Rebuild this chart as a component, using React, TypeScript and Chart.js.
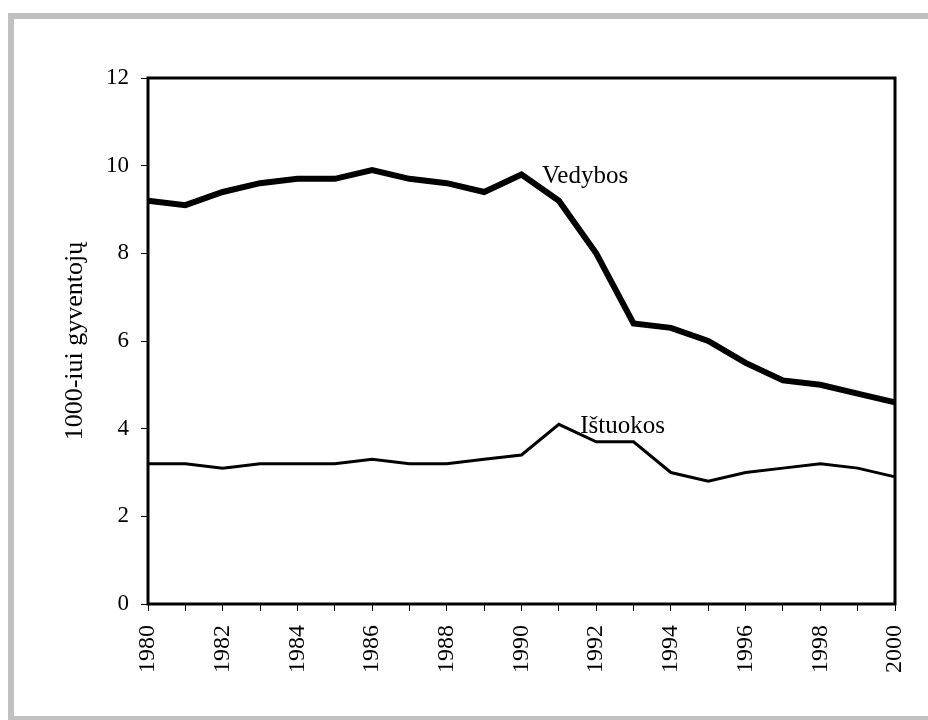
import React, { useEffect, useRef } from 'react';
import { Chart, registerables } from 'chart.js';

Chart.register(...registerables);

const years = ['1980','1981','1982','1983','1984','1985','1986','1987','1988','1989','1990','1991','1992','1993','1994','1995','1996','1997','1998','1999','2000'];
const vedybos = [9.2, 9.1, 9.4, 9.6, 9.7, 9.7, 9.9, 9.7, 9.6, 9.4, 9.8, 9.2, 8.0, 6.4, 6.3, 6.0, 5.5, 5.1, 5.0, 4.8, 4.6];
const istuokos = [3.2, 3.2, 3.1, 3.2, 3.2, 3.2, 3.3, 3.2, 3.2, 3.3, 3.4, 4.1, 3.7, 3.7, 3.0, 2.8, 3.0, 3.1, 3.2, 3.1, 2.9];
const seriesNames = ['Vedybos', 'Ištuokos'];
const yTitle = '1000-iui gyventojų';
// annotation anchors: [category index, value]
const labelAnchors: [number, number][] = [[10.55, 9.6], [11.57, 3.9]];

const FONT = "'Liberation Serif', 'Times New Roman', serif";

const frameAndLabels = {
  id: 'frameAndLabels',
  afterDatasetsDraw(chart: any) {
    const { ctx, chartArea, scales } = chart;
    ctx.save();
    ctx.strokeStyle = '#000';
    ctx.lineWidth = 3;
    ctx.strokeRect(chartArea.left, chartArea.top, chartArea.right - chartArea.left, chartArea.bottom - chartArea.top);
    ctx.fillStyle = '#000';
    ctx.font = `25px ${FONT}`;
    ctx.textAlign = 'left';
    ctx.textBaseline = 'alphabetic';
    seriesNames.forEach((name, i) => {
      const [xi, v] = labelAnchors[i];
      const x = scales.x.getPixelForValue(xi);
      const y = scales.y.getPixelForValue(v);
      ctx.fillText(name, x, y);
    });
    ctx.restore();
  },
};

export default function App() {
  const ref = useRef<HTMLCanvasElement>(null);
  useEffect(() => {
    const chart = new Chart(ref.current as HTMLCanvasElement, {
      type: 'line',
      data: {
        labels: years,
        datasets: [
          {
            label: seriesNames[0],
            data: vedybos,
            borderColor: '#000',
            borderWidth: 6,
            pointRadius: 0,
            tension: 0,
            fill: false,
          },
          {
            label: seriesNames[1],
            data: istuokos,
            borderColor: '#000',
            borderWidth: 3,
            pointRadius: 0,
            tension: 0,
            fill: false,
          },
        ],
      },
      options: {
        responsive: false,
        animation: false,
        events: [],
        layout: { padding: { top: 78, right: 33, left: 0, bottom: 0 } },
        plugins: {
          legend: { display: false },
          tooltip: { enabled: false },
        },
        scales: {
          x: {
            type: 'category',
            offset: false,
            grid: {
              display: true,
              drawOnChartArea: false,
              drawTicks: true,
              tickLength: 7,
              color: '#000',
              lineWidth: 1,
            },
            border: { display: false },
            ticks: {
              autoSkip: false,
              minRotation: 90,
              maxRotation: 90,
              padding: 14,
              color: '#000',
              font: { family: FONT, size: 24 },
              callback: (_v: any, idx: number) => (idx % 2 === 0 ? years[idx] : ''),
            },
            afterFit: (scale: any) => {
              scale.height = 116;
              scale.paddingLeft = 0;
              scale.paddingRight = 0;
            },
          },
          y: {
            min: 0,
            max: 12,
            grid: {
              display: true,
              drawOnChartArea: false,
              drawTicks: true,
              tickLength: 7,
              color: '#000',
              lineWidth: 1,
            },
            border: { display: false },
            ticks: {
              stepSize: 2,
              padding: 12,
              color: '#000',
              font: { family: FONT, size: 23 },
            },
            title: {
              display: true,
              text: yTitle,
              color: '#000',
              font: { family: FONT, size: 26 },
              padding: { top: 60, bottom: 0 },
            },
            afterFit: (scale: any) => {
              scale.width = 148;
              scale.paddingTop = 0;
              scale.paddingBottom = 0;
            },
          },
        },
      },
      plugins: [frameAndLabels],
    });
    return () => chart.destroy();
  }, []);

  return (
    <div style={{ position: 'fixed', left: 0, top: 0, width: 928, height: 720, overflow: 'hidden', background: '#fff' }}>
      <div
        style={{
          position: 'absolute',
          left: 8,
          top: 13,
          width: 940,
          height: 709,
          border: '6px solid #c0c0c0',
          boxSizing: 'border-box',
        }}
      />
      <canvas
        ref={ref}
        width={928}
        height={720}
        style={{ position: 'absolute', left: 0, top: 0, width: 928, height: 720 }}
      />
    </div>
  );
}
